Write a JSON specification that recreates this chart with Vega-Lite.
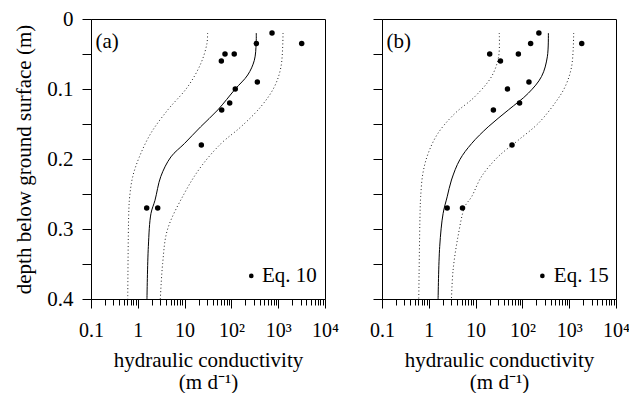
{
  "$schema": "https://vega.github.io/schema/vega-lite/v6.json",
  "padding": {"left": 13, "top": 7, "right": 0, "bottom": 0},
  "spacing": 57,
  "bounds": "flush",
  "datasets": {
    "curves": [
      {"panel": "a", "series": "fit", "depth": 0.02, "K": 340},
      {"panel": "a", "series": "fit", "depth": 0.035, "K": 338},
      {"panel": "a", "series": "fit", "depth": 0.059, "K": 309},
      {"panel": "a", "series": "fit", "depth": 0.08, "K": 223},
      {"panel": "a", "series": "fit", "depth": 0.1, "K": 121},
      {"panel": "a", "series": "fit", "depth": 0.13, "K": 51},
      {"panel": "a", "series": "fit", "depth": 0.154, "K": 22},
      {"panel": "a", "series": "fit", "depth": 0.178, "K": 9.9},
      {"panel": "a", "series": "fit", "depth": 0.197, "K": 5.1},
      {"panel": "a", "series": "fit", "depth": 0.225, "K": 3.1},
      {"panel": "a", "series": "fit", "depth": 0.259, "K": 2.33},
      {"panel": "a", "series": "fit", "depth": 0.278, "K": 1.91},
      {"panel": "a", "series": "fit", "depth": 0.325, "K": 1.68},
      {"panel": "a", "series": "fit", "depth": 0.4, "K": 1.57},
      {"panel": "a", "series": "upper", "depth": 0.02, "K": 1268},
      {"panel": "a", "series": "upper", "depth": 0.068, "K": 1148},
      {"panel": "a", "series": "upper", "depth": 0.097, "K": 826},
      {"panel": "a", "series": "upper", "depth": 0.125, "K": 429},
      {"panel": "a", "series": "upper", "depth": 0.154, "K": 160},
      {"panel": "a", "series": "upper", "depth": 0.178, "K": 60},
      {"panel": "a", "series": "upper", "depth": 0.211, "K": 22.4},
      {"panel": "a", "series": "upper", "depth": 0.249, "K": 9.9},
      {"panel": "a", "series": "upper", "depth": 0.301, "K": 4.3},
      {"panel": "a", "series": "upper", "depth": 0.349, "K": 3.4},
      {"panel": "a", "series": "upper", "depth": 0.4, "K": 3.03},
      {"panel": "a", "series": "lower", "depth": 0.02, "K": 31},
      {"panel": "a", "series": "lower", "depth": 0.035, "K": 30},
      {"panel": "a", "series": "lower", "depth": 0.063, "K": 22.4},
      {"panel": "a", "series": "lower", "depth": 0.097, "K": 11.6},
      {"panel": "a", "series": "lower", "depth": 0.13, "K": 4.35},
      {"panel": "a", "series": "lower", "depth": 0.163, "K": 1.91},
      {"panel": "a", "series": "lower", "depth": 0.197, "K": 1.08},
      {"panel": "a", "series": "lower", "depth": 0.225, "K": 0.78},
      {"panel": "a", "series": "lower", "depth": 0.254, "K": 0.67},
      {"panel": "a", "series": "lower", "depth": 0.278, "K": 0.64},
      {"panel": "a", "series": "lower", "depth": 0.4, "K": 0.61},
      {"panel": "b", "series": "fit", "depth": 0.02, "K": 359},
      {"panel": "b", "series": "fit", "depth": 0.054, "K": 341},
      {"panel": "b", "series": "fit", "depth": 0.082, "K": 257},
      {"panel": "b", "series": "fit", "depth": 0.106, "K": 134},
      {"panel": "b", "series": "fit", "depth": 0.13, "K": 50},
      {"panel": "b", "series": "fit", "depth": 0.154, "K": 18.6},
      {"panel": "b", "series": "fit", "depth": 0.178, "K": 8.2},
      {"panel": "b", "series": "fit", "depth": 0.201, "K": 4.6},
      {"panel": "b", "series": "fit", "depth": 0.23, "K": 3.05},
      {"panel": "b", "series": "fit", "depth": 0.254, "K": 2.47},
      {"panel": "b", "series": "fit", "depth": 0.278, "K": 2.02},
      {"panel": "b", "series": "fit", "depth": 0.325, "K": 1.71},
      {"panel": "b", "series": "fit", "depth": 0.4, "K": 1.58},
      {"panel": "b", "series": "upper", "depth": 0.02, "K": 1247},
      {"panel": "b", "series": "upper", "depth": 0.068, "K": 1125},
      {"panel": "b", "series": "upper", "depth": 0.097, "K": 814},
      {"panel": "b", "series": "upper", "depth": 0.12, "K": 497},
      {"panel": "b", "series": "upper", "depth": 0.149, "K": 219},
      {"panel": "b", "series": "upper", "depth": 0.173, "K": 82},
      {"panel": "b", "series": "upper", "depth": 0.197, "K": 30},
      {"panel": "b", "series": "upper", "depth": 0.225, "K": 13.4},
      {"panel": "b", "series": "upper", "depth": 0.254, "K": 8.2},
      {"panel": "b", "series": "upper", "depth": 0.268, "K": 5.9},
      {"panel": "b", "series": "upper", "depth": 0.311, "K": 4.2},
      {"panel": "b", "series": "upper", "depth": 0.359, "K": 3.3},
      {"panel": "b", "series": "upper", "depth": 0.4, "K": 3.05},
      {"panel": "b", "series": "lower", "depth": 0.02, "K": 32},
      {"panel": "b", "series": "lower", "depth": 0.054, "K": 31},
      {"panel": "b", "series": "lower", "depth": 0.082, "K": 22},
      {"panel": "b", "series": "lower", "depth": 0.111, "K": 9.6},
      {"panel": "b", "series": "lower", "depth": 0.135, "K": 3.6},
      {"panel": "b", "series": "lower", "depth": 0.163, "K": 1.58},
      {"panel": "b", "series": "lower", "depth": 0.192, "K": 0.97},
      {"panel": "b", "series": "lower", "depth": 0.22, "K": 0.75},
      {"panel": "b", "series": "lower", "depth": 0.254, "K": 0.67},
      {"panel": "b", "series": "lower", "depth": 0.278, "K": 0.65},
      {"panel": "b", "series": "lower", "depth": 0.4, "K": 0.61}
    ],
    "points": [
      {"panel": "a", "depth": 0.02, "K": 738},
      {"panel": "a", "depth": 0.035, "K": 3177},
      {"panel": "a", "depth": 0.035, "K": 341},
      {"panel": "a", "depth": 0.05, "K": 73},
      {"panel": "a", "depth": 0.05, "K": 115},
      {"panel": "a", "depth": 0.06, "K": 61},
      {"panel": "a", "depth": 0.09, "K": 358},
      {"panel": "a", "depth": 0.1, "K": 121},
      {"panel": "a", "depth": 0.12, "K": 92},
      {"panel": "a", "depth": 0.13, "K": 62},
      {"panel": "a", "depth": 0.18, "K": 22.8},
      {"panel": "a", "depth": 0.27, "K": 1.55},
      {"panel": "a", "depth": 0.27, "K": 2.66},
      {"panel": "b", "depth": 0.02, "K": 225},
      {"panel": "b", "depth": 0.035, "K": 1853},
      {"panel": "b", "depth": 0.035, "K": 150},
      {"panel": "b", "depth": 0.05, "K": 20},
      {"panel": "b", "depth": 0.05, "K": 82},
      {"panel": "b", "depth": 0.06, "K": 34},
      {"panel": "b", "depth": 0.09, "K": 138},
      {"panel": "b", "depth": 0.1, "K": 48},
      {"panel": "b", "depth": 0.12, "K": 87},
      {"panel": "b", "depth": 0.13, "K": 24},
      {"panel": "b", "depth": 0.18, "K": 60},
      {"panel": "b", "depth": 0.27, "K": 2.47},
      {"panel": "b", "depth": 0.27, "K": 5.25}
    ],
    "legend": [
      {"panel": "a", "depth": 0.367, "K": 266},
      {"panel": "b", "depth": 0.367, "K": 267}
    ],
    "labels": [
      {"panel": "a", "text": "(a)", "depth": 0.033, "K": 0.125},
      {"panel": "a", "text": "Eq. 10", "depth": 0.367, "K": 450},
      {"panel": "b", "text": "(b)", "depth": 0.033, "K": 0.125},
      {"panel": "b", "text": "Eq. 15", "depth": 0.367, "K": 470}
    ]
  },
  "hconcat": [
    {
      "width": 234,
      "height": 280,
      "encoding": {
        "x": {
          "field": "K", "type": "quantitative",
          "scale": {"type": "log", "domain": [0.1, 10000], "nice": false},
          "title": ["hydraulic conductivity", "(m d⁻¹)"],
          "axis": {
            "values": [0.1,0.2,0.3,0.4,0.5,0.6,0.7,0.8,0.9,1,2,3,4,5,6,7,8,9,10,20,30,40,50,60,70,80,90,100,200,300,400,500,600,700,800,900,1000,2000,3000,4000,5000,6000,7000,8000,9000,10000],
            "labelExpr": "datum.value==0.1?'0.1':datum.value==1?'1':datum.value==10?'10':datum.value==100?'10²':datum.value==1000?'10³':datum.value==10000?'10⁴':''",
            "tickSize": {"condition": {"test": "indexof([0.1,1,10,100,1000,10000], datum.value) >= 0", "value": 9}, "value": 6},
            "labelFontSize": 20,
            "labelPadding": 12,
            "labelOverlap": false,
            "labelFlush": false,
            "titlePadding": 9,
            "titleLineHeight": 22
          }
        },
        "y": {
          "field": "depth", "type": "quantitative",
          "scale": {"domain": [0, 0.4], "reverse": true, "nice": false, "zero": false},
          "title": "depth below ground surface (m)",
          "axis": {
            "values": [0,0.05,0.1,0.15,0.2,0.25,0.3,0.35,0.4],
            "labelExpr": "round(datum.value*20) % 2 == 0 ? format(datum.value, '.1~f') : ''",
            "tickSize": 9,
            "labelPadding": 9,
            "titlePadding": 12
          }
        }
      },
      "layer": [
        {
          "data": {"name": "curves"},
          "transform": [{"filter": "datum.panel == 'a' && datum.series != 'fit'"}],
          "mark": {"type": "line", "color": "#222222", "strokeWidth": 1, "strokeDash": [1, 2.5], "interpolate": "catmull-rom"},
          "encoding": {"detail": {"field": "series"}, "order": {"field": "depth", "type": "quantitative"}}
        },
        {
          "data": {"name": "curves"},
          "transform": [{"filter": "datum.panel == 'a' && datum.series == 'fit'"}],
          "mark": {"type": "line", "color": "black", "strokeWidth": 1, "interpolate": "catmull-rom"},
          "encoding": {"order": {"field": "depth", "type": "quantitative"}}
        },
        {
          "data": {"name": "points"},
          "transform": [{"filter": "datum.panel == 'a'"}],
          "mark": {"type": "circle", "color": "black", "opacity": 1, "size": 30},
          "encoding": {}
        },
        {
          "data": {"name": "legend"},
          "transform": [{"filter": "datum.panel == 'a'"}],
          "mark": {"type": "circle", "color": "black", "opacity": 1, "size": 22},
          "encoding": {}
        },
        {
          "data": {"name": "labels"},
          "transform": [{"filter": "datum.panel == 'a'"}],
          "mark": {"type": "text", "align": "left", "baseline": "middle", "font": "Liberation Serif", "fontSize": 21, "color": "black"},
          "encoding": {"text": {"field": "text"}}
        }
      ]
    },
    {
      "width": 234,
      "height": 280,
      "encoding": {
        "x": {
          "field": "K", "type": "quantitative",
          "scale": {"type": "log", "domain": [0.1, 10000], "nice": false},
          "title": ["hydraulic conductivity", "(m d⁻¹)"],
          "axis": {
            "values": [0.1,0.2,0.3,0.4,0.5,0.6,0.7,0.8,0.9,1,2,3,4,5,6,7,8,9,10,20,30,40,50,60,70,80,90,100,200,300,400,500,600,700,800,900,1000,2000,3000,4000,5000,6000,7000,8000,9000,10000],
            "labelExpr": "datum.value==0.1?'0.1':datum.value==1?'1':datum.value==10?'10':datum.value==100?'10²':datum.value==1000?'10³':datum.value==10000?'10⁴':''",
            "tickSize": {"condition": {"test": "indexof([0.1,1,10,100,1000,10000], datum.value) >= 0", "value": 9}, "value": 6},
            "labelFontSize": 20,
            "labelPadding": 12,
            "labelOverlap": false,
            "labelFlush": false,
            "titlePadding": 9,
            "titleLineHeight": 22
          }
        },
        "y": {
          "field": "depth", "type": "quantitative",
          "scale": {"domain": [0, 0.4], "reverse": true, "nice": false, "zero": false},
          "title": null,
          "axis": {
            "values": [0,0.05,0.1,0.15,0.2,0.25,0.3,0.35,0.4],
            "labels": false,
            "tickSize": 9
          }
        }
      },
      "layer": [
        {
          "data": {"name": "curves"},
          "transform": [{"filter": "datum.panel == 'b' && datum.series != 'fit'"}],
          "mark": {"type": "line", "color": "#222222", "strokeWidth": 1, "strokeDash": [1, 2.5], "interpolate": "catmull-rom"},
          "encoding": {"detail": {"field": "series"}, "order": {"field": "depth", "type": "quantitative"}}
        },
        {
          "data": {"name": "curves"},
          "transform": [{"filter": "datum.panel == 'b' && datum.series == 'fit'"}],
          "mark": {"type": "line", "color": "black", "strokeWidth": 1, "interpolate": "catmull-rom"},
          "encoding": {"order": {"field": "depth", "type": "quantitative"}}
        },
        {
          "data": {"name": "points"},
          "transform": [{"filter": "datum.panel == 'b'"}],
          "mark": {"type": "circle", "color": "black", "opacity": 1, "size": 30},
          "encoding": {}
        },
        {
          "data": {"name": "legend"},
          "transform": [{"filter": "datum.panel == 'b'"}],
          "mark": {"type": "circle", "color": "black", "opacity": 1, "size": 22},
          "encoding": {}
        },
        {
          "data": {"name": "labels"},
          "transform": [{"filter": "datum.panel == 'b'"}],
          "mark": {"type": "text", "align": "left", "baseline": "middle", "font": "Liberation Serif", "fontSize": 21, "color": "black"},
          "encoding": {"text": {"field": "text"}}
        }
      ]
    }
  ],
  "config": {
    "background": "white",
    "font": "Liberation Serif",
    "view": {"stroke": "black", "strokeWidth": 1},
    "axis": {
      "grid": false,
      "domainColor": "black",
      "domainWidth": 1,
      "tickColor": "black",
      "tickWidth": 1,
      "labelColor": "black",
      "titleColor": "black",
      "labelFont": "Liberation Serif",
      "titleFont": "Liberation Serif",
      "labelFontSize": 21,
      "titleFontSize": 21,
      "titleFontWeight": "normal"
    }
  }
}
